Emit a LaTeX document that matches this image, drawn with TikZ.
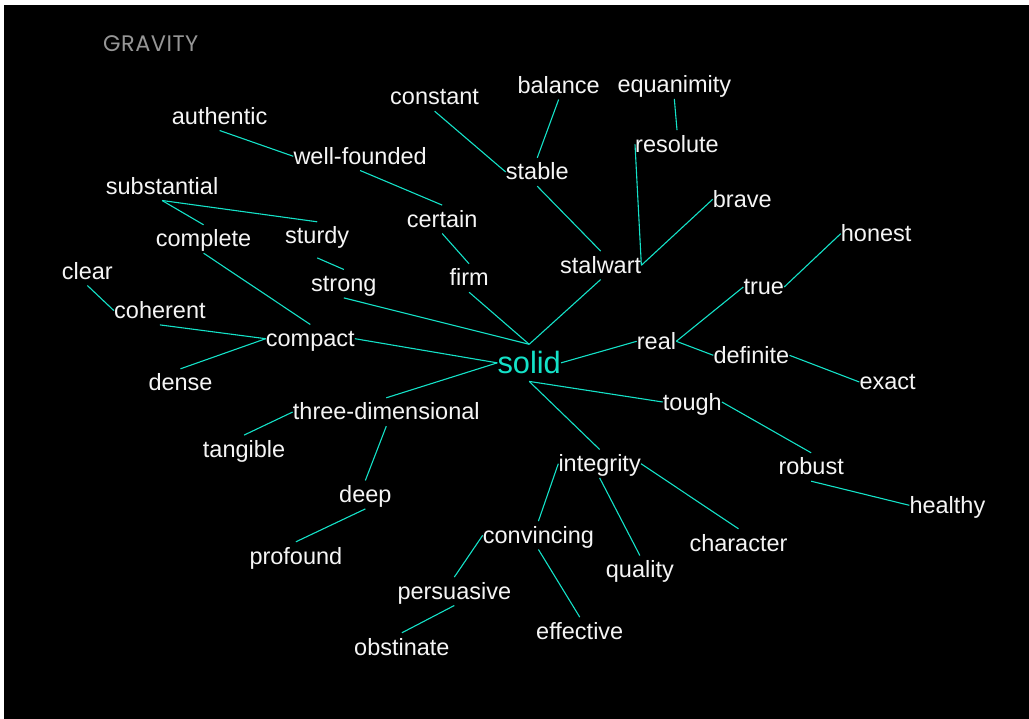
\documentclass[tikz,border=0pt]{standalone}
\usepackage{fontspec}
\setmainfont{Liberation Sans}
\newfontfamily\titlefamily[LetterSpace=2]{Poppins}
\definecolor{linkcyan}{RGB}{20,226,200}
\definecolor{titlegray}{RGB}{150,150,150}
\definecolor{wordwhite}{RGB}{245,245,245}
\newcommand{\wordfont}{\fontsize{23.5}{28}\selectfont}
\newcommand{\hubfont}{\fontsize{30.8}{36}\selectfont}
\tikzset{
  word/.style={anchor=base west, inner sep=0pt, text height=22pt, text depth=6pt,
    font=\wordfont, text=wordwhite},
  hub/.style={anchor=base west, inner sep=0pt, text height=28.8pt, text depth=7.9pt,
    font=\hubfont, text=linkcyan},
  link/.style={draw=linkcyan, line width=1.1pt},
}
\begin{document}
\begin{tikzpicture}[x=1pt,y=-1pt]
\useasboundingbox (0,0) rectangle (1029,719);
\fill[white] (0,0) rectangle (1029,719);
\fill[black] (4,5) rectangle (1029,719);

\node[anchor=base west, inner sep=0pt, text=titlegray,
      font=\titlefamily\fontsize{22.5}{26}\selectfont] (title) at (103,51.7) {GRAVITY};

% words
\node[word] (authentic)   at (171.7,124.3) {authentic};
\node[word] (wellfounded) at (293.3,164.3) {well-founded};
\node[word] (constant)    at (390,105) {constant};
\node[word] (balance)     at (517.3,93.3) {balance};
\node[word] (equanimity)  at (617.3,92.7) {equanimity};
\node[word] (resolute)    at (635,152.3) {resolute};
\node[word] (stable)      at (505.7,180) {stable};
\node[word] (substantial) at (105.7,194.3) {substantial};
\node[word] (certain)     at (406.7,227.3) {certain};
\node[word] (brave)       at (712.7,207.3) {brave};
\node[word] (complete)    at (155.7,247) {complete};
\node[word] (sturdy)      at (285,244) {sturdy};
\node[word] (honest)      at (840.7,241.7) {honest};
\node[word] (clear)       at (61.7,279.3) {clear};
\node[word] (strong)      at (311,291.7) {strong};
\node[word] (firm)        at (449.3,286) {firm};
\node[word] (stalwart)    at (560,273.3) {stalwart};
\node[word] (true)        at (743.3,295) {true};
\node[word] (coherent)    at (114,318.7) {coherent};
\node[word] (compact)     at (265.7,346.7) {compact};
\node[hub]  (solid)       at (497.3,373.3) {solid};
\node[word] (real)        at (636.7,349.3) {real};
\node[word] (definite)    at (713.3,363.3) {definite};
\node[word] (dense)       at (148.3,391) {dense};
\node[word] (exact)       at (859.3,390) {exact};
\node[word] (tough)       at (662.7,410) {tough};
\node[word] (threedim)    at (292.7,420) {three-dimensional};
\node[word] (tangible)    at (202.7,457.3) {tangible};
\node[word] (integrity)   at (558.3,471.7) {integrity};
\node[word] (robust)      at (778.3,475) {robust};
\node[word] (deep)        at (339,502.7) {deep};
\node[word] (healthy)     at (909.3,513.3) {healthy};
\node[word] (convincing)  at (482.7,543.3) {convincing};
\node[word] (character)   at (689.3,551) {character};
\node[word] (profound)    at (249.3,564) {profound};
\node[word] (quality)     at (605.7,577.7) {quality};
\node[word] (persuasive)  at (397.3,599.3) {persuasive};
\node[word] (effective)   at (536,639.3) {effective};
\node[word] (obstinate)   at (354,655) {obstinate};

% connectors
\draw[link] (authentic.south) -- (wellfounded.west);
\draw[link] (wellfounded.south) -- (certain.north);
\draw[link] (certain.south) -- (firm.north);
\draw[link] (firm.south) -- (solid.north);
\draw[link] (constant.south) -- (stable.west);
\draw[link] (balance.south) -- (stable.north);
\draw[link] (stable.south) -- (stalwart.north);
\draw[link] (equanimity.south) -- (resolute.north);
\draw[link] (resolute.west) -- (stalwart.east);
\draw[link] (brave.west) -- (stalwart.east);
\draw[link] (stalwart.south) -- (solid.north);
\draw[link] (substantial.south) -- (sturdy.north);
\draw[link] (substantial.south) -- (complete.north);
\draw[link] ([yshift=-7.7pt]sturdy.south) -- (strong.north);
\draw[link] (strong.south) -- (solid.north);
\draw[link] (complete.south) -- (compact.north);
\draw[link] (clear.south) -- (coherent.west);
\draw[link] (coherent.south) -- (compact.west);
\draw[link] (dense.north) -- (compact.west);
\draw[link] (compact.east) -- (solid.west);
\draw[link] (threedim.north) -- (solid.west);
\draw[link] (tangible.north) -- (threedim.west);
\draw[link] (threedim.south) -- (deep.north);
\draw[link] (deep.south) -- (profound.north);
\draw[link] (solid.east) -- (real.west);
\draw[link] (real.east) -- (true.west);
\draw[link] (true.east) -- (honest.west);
\draw[link] (real.east) -- (definite.west);
\draw[link] (definite.east) -- (exact.west);
\draw[link] (solid.south) -- (tough.west);
\draw[link] (tough.east) -- (robust.north);
\draw[link] (robust.south) -- (healthy.west);
\draw[link] (solid.south) -- (integrity.north);
\draw[link] (integrity.west) -- (convincing.north);
\draw[link] (integrity.south) -- (quality.north);
\draw[link] (integrity.east) -- (character.north);
\draw[link] (convincing.west) -- (persuasive.north);
\draw[link] (convincing.south) -- (effective.north);
\draw[link] (persuasive.south) -- (obstinate.north);
\end{tikzpicture}
\end{document}
